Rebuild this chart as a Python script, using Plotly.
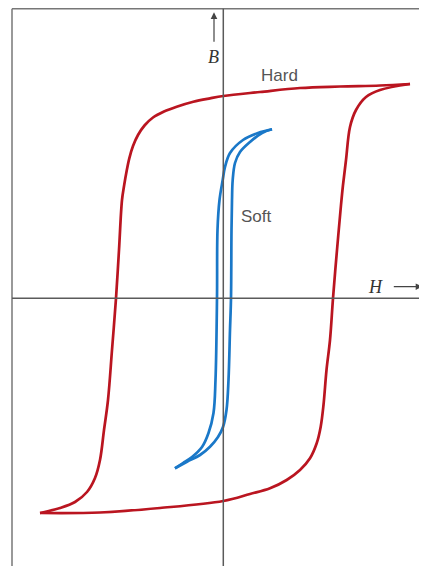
import plotly.graph_objects as go

# Hysteresis loops, H and B in arbitrary units (origin at the axis crossing)
hard_down_h = [1.867, 1.567, 1.167, 0.767, 0.367, 0.0, -0.133, -0.30, -0.466, -0.593, -0.703,
               -0.788, -0.853, -0.903, -0.94, -0.968, -0.991, -1.013, -1.043, -1.073,
               -1.113, -1.153, -1.193, -1.233, -1.283, -1.363, -1.483, -1.633, -1.833]
hard_down_b = [2.143, 2.128, 2.118, 2.103, 2.063, 2.023, 2.0, 1.966, 1.916, 1.868, 1.808,
               1.728, 1.633, 1.523, 1.40, 1.266, 1.133, 0.983, 0.483, 0.0,
               -0.517, -1.017, -1.317, -1.617, -1.797, -1.937, -2.037, -2.097, -2.147]
hard_up_h = [-1.833, -1.233, -0.633, 0.0, 0.267, 0.467, 0.634, 0.767, 0.867, 0.934, 0.974,
             1.002, 1.032, 1.067, 1.097, 1.137, 1.177, 1.197, 1.227, 1.267, 1.327, 1.427,
             1.567, 1.867]
hard_up_b = [-2.147, -2.142, -2.097, -2.027, -1.957, -1.90, -1.817, -1.717, -1.60, -1.45, -1.284,
             -1.067, -0.717, -0.417, 0.0, 0.483, 0.933, 1.133, 1.383, 1.713, 1.883, 2.013,
             2.083, 2.143]

soft_down_h = [0.487, 0.347, 0.197, 0.067, 0.017, -0.006, -0.038, -0.058, -0.063, -0.078,
               -0.098, -0.148, -0.213, -0.313, -0.403, -0.483]
soft_down_b = [1.69, 1.653, 1.583, 1.453, 1.313, 1.183, 0.983, 0.683, 0.0, -0.817,
               -1.147, -1.347, -1.487, -1.587, -1.647, -1.70]
soft_up_h = [-0.483, -0.363, -0.233, -0.133, -0.053, -0.003, 0.032, 0.052, 0.067, 0.077,
             0.082, 0.087, 0.094, 0.117, 0.167, 0.267, 0.387, 0.487]
soft_up_b = [-1.70, -1.634, -1.567, -1.484, -1.387, -1.287, -1.117, -0.817, -0.317, 0.0,
             0.683, 0.983, 1.183, 1.353, 1.463, 1.563, 1.653, 1.69]

RED = "#ba1520"
BLUE = "#1a78c8"
AXIS = "#5a5a5a"

# the page body adds an 8px margin, so the figure is 8px smaller than the window
x_range = [-2.153, 2.037]
y_range = [-2.677, 2.903]
frame_x = -2.113
frame_y = 2.895

fig = go.Figure()
for h, b, color in [(hard_down_h, hard_down_b, RED), (hard_up_h, hard_up_b, RED),
                    (soft_down_h, soft_down_b, BLUE), (soft_up_h, soft_up_b, BLUE)]:
    fig.add_trace(go.Scatter(x=h, y=b, mode="lines",
                             line=dict(color=color, width=2.7, shape="spline", smoothing=1.0),
                             showlegend=False, hoverinfo="skip"))

# frame (top and left edges) and the two axes
fig.add_shape(type="line", x0=frame_x, x1=frame_x, y0=y_range[0], y1=frame_y,
              line=dict(color="#777777", width=1.5))
fig.add_shape(type="line", x0=frame_x, x1=x_range[1], y0=frame_y, y1=frame_y,
              line=dict(color="#777777", width=1.5))
fig.add_shape(type="line", x0=0, x1=0, y0=y_range[0], y1=frame_y,
              line=dict(color=AXIS, width=1.5))
fig.add_shape(type="line", x0=frame_x, x1=x_range[1], y0=0, y1=0,
              line=dict(color=AXIS, width=1.5))

# axis labels with arrows
fig.add_annotation(x=-0.093, y=2.86, ax=-0.093, ay=2.55, xref="x", yref="y", axref="x", ayref="y",
                   text="", showarrow=True, arrowhead=2, arrowsize=1.1, arrowwidth=1.2,
                   arrowcolor="#444444")
fig.add_annotation(x=-0.098, y=2.418, text="<i>B</i>", showarrow=False,
                   font=dict(family="Liberation Serif", size=18, color="#333333"))
fig.add_annotation(x=1.99, y=0.116, ax=1.69, ay=0.116, xref="x", yref="y", axref="x", ayref="y",
                   text="", showarrow=True, arrowhead=2, arrowsize=1.1, arrowwidth=1.2,
                   arrowcolor="#444444")
fig.add_annotation(x=1.522, y=0.113, text="<i>H</i>", showarrow=False,
                   font=dict(family="Liberation Serif", size=18, color="#333333"))
fig.add_annotation(x=0.557, y=2.233, text="Hard", showarrow=False,
                   font=dict(family="Liberation Sans", size=17, color="#555555"))
fig.add_annotation(x=0.327, y=0.818, text="Soft", showarrow=False,
                   font=dict(family="Liberation Sans", size=17, color="#555555"))

fig.update_xaxes(range=x_range, visible=False)
fig.update_yaxes(range=y_range, visible=False)
fig.update_layout(width=419, height=558, margin=dict(l=0, r=0, t=0, b=0),
                  plot_bgcolor="white", paper_bgcolor="white")

fig.write_html("out.html")
